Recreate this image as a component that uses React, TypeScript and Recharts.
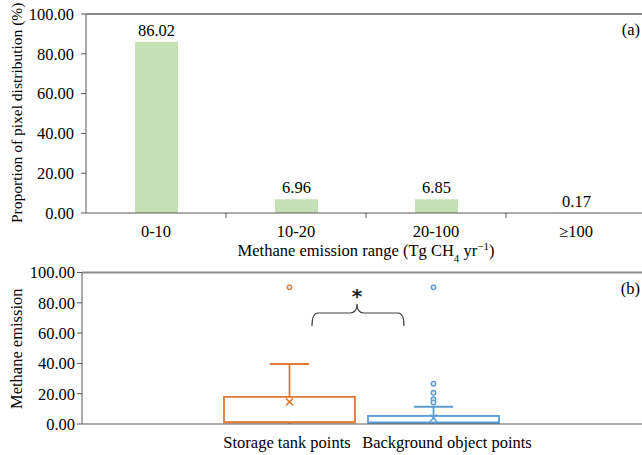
import React from 'react';
import { BarChart, Bar, XAxis, YAxis, LabelList, ReferenceLine, Label } from 'recharts';

// panel (a): share of pixels by emission range
const rangeCats = ['0-10', '10-20', '20-100', '≥100'];
const rangeShare = [86.02, 6.96, 6.85, 0.17];
const shareTicks = [0, 20, 40, 60, 80, 100];

// panel (b): box plots
const boxGroups = ['Storage tank points', 'Background object points'];
const boxColors = ['#E07A35', '#5B9BD5'];
const boxMin = [0, 0];
const boxQ1 = [1, 0.7];
const boxMedian = [1.3, 1];
const boxQ3 = [17.9, 5.3];
const boxMax = [39.6, 11.4];
const boxMean = [14.6, 3.9];
const boxOutliers = [[90.2], [90.2, 26.6, 20.6, 16.3, 14.2]];
const emissionTicks = [0, 20, 40, 60, 80, 100];

const FONT = "'Liberation Serif', 'Times New Roman', Times, serif";
const FS = 16.5;
const AXIS = '#595959';

const shareData = rangeCats.map((name, i) => ({ name, value: rangeShare[i] }));
const boxData = boxGroups.map((name, i) => ({ name, box: [boxQ1[i], boxQ3[i]] }));

const fmt = (v: number) => v.toFixed(2);
const txt = { fontFamily: FONT, fontSize: FS };

const RangeTick = (props: any) => {
  const { x, y, payload, index } = props;
  const axisY = y - 12;
  return (
    <g>
      <text x={x} y={y} dy="0.71em" textAnchor="middle" style={txt} fill="#000">
        {payload.value}
      </text>
      {index < rangeCats.length - 1 && (
        <line x1={x + 70} x2={x + 70} y1={axisY} y2={axisY + 5} stroke={AXIS} />
      )}
    </g>
  );
};

const RangeTitle = (props: any) => {
  const { viewBox } = props;
  const cx = viewBox.x + viewBox.width / 2;
  return (
    <text x={cx} y={viewBox.y + 43} textAnchor="middle" style={txt} fill="#000">
      Methane emission range (Tg CH
      <tspan baselineShift="sub" style={{ fontSize: 11 }}>4</tspan>
      <tspan> yr</tspan>
      <tspan baselineShift="super" style={{ fontSize: 11 }}>−1</tspan>
      <tspan>)</tspan>
    </text>
  );
};

const VertTitle = (text: string, bottom: number, size: number) => (props: any) => {
  const { viewBox } = props;
  const x = 18;
  const y = viewBox.y + viewBox.height + bottom;
  return (
    <text
      x={x}
      y={y}
      transform={`rotate(-90 ${x} ${y})`}
      textAnchor="start"
      dominantBaseline="middle"
      style={{ fontFamily: FONT, fontSize: size }}
      fill="#000"
    >
      {text}
    </text>
  );
};

const PanelTag = (tag: string) => (props: any) => {
  const { viewBox } = props;
  return (
    <text x={viewBox.x + viewBox.width - 6} y={viewBox.y + 21} textAnchor="end" style={txt} fill="#000">
      {tag}
    </text>
  );
};

const BoxShape = (props: any) => {
  const { x, y, width, height, index } = props;
  const i = index;
  const top = Math.min(y, y + height);
  const bottom = Math.max(y, y + height);
  const q1 = boxQ1[i];
  const q3 = boxQ3[i];
  const toY = (v: number) => bottom - ((v - q1) * (bottom - top)) / (q3 - q1);
  const c = boxColors[i];
  const cx = x + width / 2;
  const cap = width * 0.15;
  const my = toY(boxMean[i]);
  return (
    <g>
      <line x1={cx} x2={cx} y1={toY(boxQ3[i])} y2={toY(boxMax[i])} stroke={c} strokeWidth={1.8} />
      <line x1={cx - cap} x2={cx + cap} y1={toY(boxMax[i])} y2={toY(boxMax[i])} stroke={c} strokeWidth={1.8} />
      <line x1={cx} x2={cx} y1={toY(boxQ1[i])} y2={toY(boxMin[i])} stroke={c} strokeWidth={1.8} />
      <rect x={x} y={top} width={width} height={bottom - top} fill="none" stroke={c} strokeWidth={1.8} />
      <line x1={x} x2={x + width} y1={toY(boxMedian[i])} y2={toY(boxMedian[i])} stroke={c} strokeWidth={1.8} />
      <line x1={cx - 3.5} x2={cx + 3.5} y1={my - 3.5} y2={my + 3.5} stroke={c} strokeWidth={1.5} />
      <line x1={cx - 3.5} x2={cx + 3.5} y1={my + 3.5} y2={my - 3.5} stroke={c} strokeWidth={1.5} />
      {boxOutliers[i].map((v, k) => (
        <circle key={k} cx={cx} cy={toY(v)} r={2.3} fill="#dbe8f5" stroke={c} strokeWidth={1.3} />
      ))}
    </g>
  );
};

const GroupTick = (props: any) => {
  const { x, y, payload, index } = props;
  return (
    <text x={x + (index === 1 ? 14 : -2)} y={y} dy="0.71em" textAnchor="middle" style={txt} fill="#000">
      {payload.value}
    </text>
  );
};

export default function App() {
  return (
    <div style={{ position: 'absolute', left: 0, top: 0, width: 642, height: 455, overflow: 'hidden', background: '#fff', fontFamily: FONT }}>
      <div style={{ position: 'absolute', left: 0, top: 0 }}>
        <BarChart width={646} height={270} data={shareData} margin={{ top: 14, right: 0, left: 0, bottom: 8 }} barSize={43}>
          <ReferenceLine y={100} stroke="#8c8c8c" strokeWidth={2}>
            <Label content={PanelTag('(a)')} />
          </ReferenceLine>
          <XAxis
            dataKey="name"
            height={49}
            interval={0}
            tickLine={false}
            tickSize={0}
            tickMargin={12}
            axisLine={{ stroke: AXIS }}
            tick={<RangeTick />}
          >
            <Label content={RangeTitle} />
          </XAxis>
          <YAxis
            width={86}
            domain={[0, 100]}
            ticks={shareTicks}
            tickFormatter={fmt}
            tickSize={5}
            tickMargin={7}
            axisLine={{ stroke: AXIS }}
            tickLine={{ stroke: AXIS }}
            tick={{ fill: '#000', fontSize: FS, fontFamily: FONT }}
          >
            <Label content={VertTitle('Proportion of pixel distribution  (%)', 10, 15.5)} />
          </YAxis>
          <Bar dataKey="value" fill="#C5E0B4" isAnimationActive={false}>
            <LabelList dataKey="value" position="top" offset={6} formatter={(v: any) => fmt(Number(v))} fill="#000" fontSize={FS} fontFamily={FONT} />
          </Bar>
        </BarChart>
      </div>
      <div style={{ position: 'absolute', left: 0, top: 262 }}>
        <BarChart
          width={646}
          height={193}
          data={boxData}
          margin={{ top: 10.5, right: 0, left: 0, bottom: 0 }}
          barSize={131}
        >
          <ReferenceLine y={100} stroke="#8c8c8c" strokeWidth={2}>
            <Label content={PanelTag('(b)')} />
          </ReferenceLine>
          <XAxis
            dataKey="name"
            height={31}
            interval={0}
            padding={{ left: 135, right: 141 }}
            tickLine={false}
            tickSize={0}
            tickMargin={12}
            axisLine={{ stroke: AXIS }}
            tick={<GroupTick />}
          />
          <YAxis
            width={82}
            domain={[0, 100]}
            ticks={emissionTicks}
            tickFormatter={fmt}
            tickSize={5}
            tickMargin={2}
            axisLine={{ stroke: AXIS }}
            tickLine={{ stroke: AXIS }}
            tick={{ fill: '#000', fontSize: FS, fontFamily: FONT }}
          >
            <Label content={VertTitle('Methane emission', -15, FS)} />
          </YAxis>
          <Bar dataKey="box" shape={<BoxShape />} isAnimationActive={false} />
        </BarChart>
        <svg width={642} height={193} style={{ position: 'absolute', left: 0, top: 0, pointerEvents: 'none' }}>
          <path
            d="M312,64 Q312,51 318,51 L350,51 Q357,51 357,42 Q357,51 364,51 L398,51 Q404,51 404,64"
            fill="none"
            stroke="#404040"
            strokeWidth={1.2}
          />
          <text x={357} y={41} textAnchor="middle" fontFamily="DejaVu Sans, sans-serif" fontWeight="bold" fontSize={20} fill="#222">
            *
          </text>
        </svg>
      </div>
    </div>
  );
}
